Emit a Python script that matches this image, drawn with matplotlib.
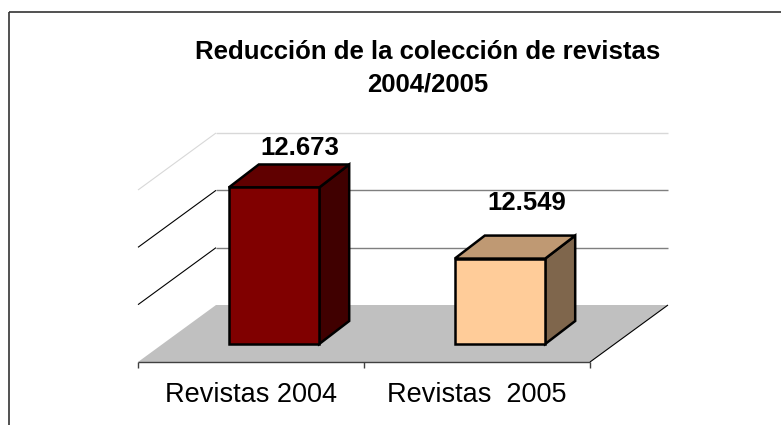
import matplotlib
matplotlib.use("Agg")
import matplotlib.pyplot as plt
from matplotlib.patches import Polygon
from matplotlib.lines import Line2D
from matplotlib.transforms import IdentityTransform
import numpy as np

plt.rcParams['font.family'] = ['Liberation Sans', 'DejaVu Sans']

# ---- data ----
categories = ["Revistas 2004", "Revistas  2005"]
values = [12673, 12549]
value_labels = ["12.673", "12.549"]
gridlines = [12500, 12600, 12700]
title_line1 = "Reducción de la colección de revistas"
title_line2 = "2004/2005"

# ---- style ----
front_colors = ["#800000", "#ffcc99"]
top_colors = ["#600000", "#bf9973"]
side_colors = ["#400000", "#7f664c"]
label_offsets = [(26, 32), (27, 49)]   # pixels from bar front-top centre
FRONT = np.array([-23.0, -18.0])       # floor front edge relative to bar plane (px)
BACK = np.array([55.0, 39.0])          # floor back edge / back wall (px)
BAR_DEPTH = np.array([30.0, 23.0])
bar_width = 0.4
ymin, ymax = 12400, 12700

W, H = 781, 425
fig = plt.figure(figsize=(W / 100, H / 100), dpi=100)
fig.patch.set_facecolor("white")
ax = fig.add_axes([161 / W, 81 / H, 452 / W, 172 / H])
ax.set_xlim(-0.5, len(categories) - 0.5)
ax.set_ylim(ymin, ymax)
ax.axis("off")

ident = IdentityTransform()


def P(x, v, off=(0, 0)):
    p = ax.transData.transform((x, v))
    return p + np.asarray(off)


def poly(pts, fc, ec="none", lw=0, z=1):
    fig.patches.append(Polygon(pts, closed=True, facecolor=fc, edgecolor=ec,
                               linewidth=lw, transform=ident, zorder=z,
                               joinstyle="miter"))


def line(p0, p1, color, lw, z=2):
    fig.lines.append(Line2D([p0[0], p1[0]], [p0[1], p1[1]], color=color,
                            linewidth=lw, transform=ident, zorder=z,
                            solid_capstyle="butt"))


x0a, x1a = -0.5, len(categories) - 0.5

# floor
poly([P(x0a, ymin, FRONT), P(x1a, ymin, FRONT), P(x1a, ymin, BACK), P(x0a, ymin, BACK)],
     "#c0c0c0", z=1)

# back wall gridlines and left wall diagonals
for g in gridlines:
    col_back = "#d8d8d8" if g == ymax else "#7f7f7f"
    col_side = "#d8d8d8" if g == ymax else "#000000"
    line(P(x0a, g, BACK), P(x1a, g, BACK), col_back, 1.0)
    line(P(x0a, g, BACK), P(x0a, g, FRONT), col_side, 0.8)

# floor front edge, right edge, ticks
line(P(x0a, ymin, FRONT), P(x1a, ymin, FRONT), "#404040", 1.0, z=3)
line(P(x1a, ymin, FRONT), P(x1a, ymin, BACK), "#000000", 0.8, z=3)
for t in np.arange(x0a, x1a + 0.01, 1.0):
    a = P(t, ymin, FRONT)
    line(a, a + np.array([0, -6]), "#404040", 1.0, z=3)

# bars
for i, v in enumerate(values):
    xl, xr = i - bar_width / 2, i + bar_width / 2
    z = 5 + i
    # side
    poly([P(xr, ymin), P(xr, v), P(xr, v, BAR_DEPTH), P(xr, ymin, BAR_DEPTH)],
         side_colors[i], "black", 1.8, z)
    # top
    poly([P(xl, v), P(xr, v), P(xr, v, BAR_DEPTH), P(xl, v, BAR_DEPTH)],
         top_colors[i], "black", 1.8, z)
    # front
    poly([P(xl, ymin), P(xr, ymin), P(xr, v), P(xl, v)],
         front_colors[i], "black", 1.8, z)
    dx, dy = label_offsets[i]
    ax.annotate(value_labels[i], xy=(i, v), xytext=(dx, dy),
                textcoords="offset pixels", ha="center", va="baseline",
                fontsize=18.5, fontweight="bold", annotation_clip=False)

# category labels
for i, c in enumerate(categories):
    ax.annotate(c, xy=(i, ymin), xytext=(FRONT[0], -58),
                textcoords="offset pixels", ha="center", va="baseline",
                fontsize=19.5, annotation_clip=False)

# title
fig.text(428 / W, 1 - 59 / H, title_line1, ha="center", va="baseline",
         fontsize=18.5, fontweight="bold")
fig.text(428 / W, 1 - 92 / H, title_line2, ha="center", va="baseline",
         fontsize=18.5, fontweight="bold")

# outer frame (partially visible)
line((9, -5), (9, H - 12), "#333333", 1.2, z=10)
line((9, H - 12), (W + 5, H - 12), "#333333", 1.2, z=10)

fig.savefig("out.png", dpi=100)
